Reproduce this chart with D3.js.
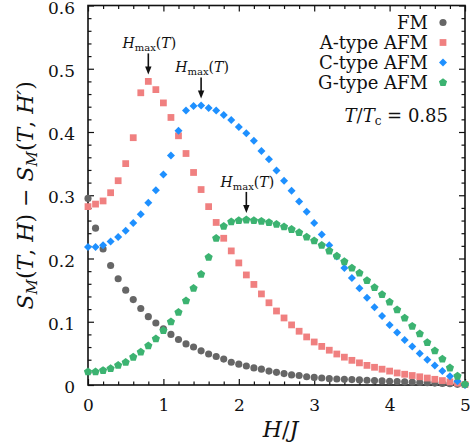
<!DOCTYPE html>
<html>
<head>
<meta charset="utf-8">
<script src="https://cdn.jsdelivr.net/npm/d3@7"></script>
<style>
  body { margin: 0; background: #fff; }
  text { font-family: "DejaVu Serif", "Liberation Serif", "Noto Serif", "Times New Roman", Times, serif; fill: #111; }
</style>
</head>
<body>
<script>
// field values H/J
const fieldH = [0.0, 0.1, 0.2, 0.3, 0.4, 0.5, 0.6, 0.7, 0.8, 0.9,
                1.0, 1.1, 1.2, 1.3, 1.4, 1.5, 1.6, 1.7, 1.8, 1.9,
                2.0, 2.1, 2.2, 2.3, 2.4, 2.5, 2.6, 2.7, 2.8, 2.9,
                3.0, 3.1, 3.2, 3.3, 3.4, 3.5, 3.6, 3.7, 3.8, 3.9,
                4.0, 4.1, 4.2, 4.3, 4.4, 4.5, 4.6, 4.7, 4.8, 4.9, 5.0];

const fmValues = [0.295, 0.248, 0.215, 0.189, 0.168, 0.150, 0.135, 0.121, 0.108, 0.098,
                  0.089, 0.080, 0.072, 0.065, 0.060, 0.054, 0.049, 0.045, 0.041, 0.036,
                  0.033, 0.030, 0.027, 0.025, 0.022, 0.020, 0.018, 0.016, 0.015, 0.013,
                  0.012, 0.011, 0.010, 0.0095, 0.009, 0.0085, 0.008, 0.0075, 0.007, 0.0065,
                  0.006, 0.0055, 0.005, 0.0045, 0.004, 0.0035, 0.003, 0.0025, 0.002, 0.001, 0.0005];

const aValues = [0.282, 0.286, 0.291, 0.304, 0.323, 0.350, 0.391, 0.462, 0.480, 0.467,
                 0.446, 0.423, 0.394, 0.366, 0.336, 0.309, 0.282, 0.257, 0.232, 0.212,
                 0.193, 0.174, 0.159, 0.144, 0.130, 0.117, 0.106, 0.095, 0.085, 0.076,
                 0.068, 0.061, 0.055, 0.049, 0.044, 0.039, 0.035, 0.031, 0.028, 0.025,
                 0.022, 0.019, 0.017, 0.015, 0.013, 0.011, 0.009, 0.007, 0.005, 0.003, 0.001];

const cValues = [0.218, 0.218, 0.221, 0.227, 0.234, 0.244, 0.256, 0.270, 0.288, 0.308,
                 0.333, 0.363, 0.402, 0.434, 0.441, 0.442, 0.438, 0.434, 0.427, 0.419,
                 0.408, 0.398, 0.386, 0.370, 0.357, 0.339, 0.323, 0.307, 0.290, 0.274,
                 0.256, 0.238, 0.221, 0.203, 0.185, 0.169, 0.153, 0.138, 0.123, 0.109,
                 0.095, 0.083, 0.071, 0.061, 0.050, 0.040, 0.031, 0.022, 0.014, 0.006, 0.0];

const gValues = [0.021, 0.021, 0.023, 0.026, 0.031, 0.036, 0.044, 0.052, 0.062, 0.073,
                 0.086, 0.100, 0.115, 0.133, 0.153, 0.175, 0.202, 0.232, 0.251, 0.258,
                 0.260, 0.261, 0.260, 0.259, 0.257, 0.254, 0.250, 0.246, 0.241, 0.234,
                 0.228, 0.221, 0.212, 0.204, 0.195, 0.185, 0.177, 0.165, 0.154, 0.143,
                 0.131, 0.119, 0.106, 0.093, 0.081, 0.067, 0.054, 0.041, 0.027, 0.014, 0.001];

const seriesNames = ["FM", "A-type AFM", "C-type AFM", "G-type AFM"];
const seriesColors = ["#666666", "#f08080", "#1e90ff", "#3cb371"];
const xTicks = [0, 1, 2, 3, 4, 5];
const yTicks = [0, 0.1, 0.2, 0.3, 0.4, 0.5, 0.6];

// peak positions marked with H_max(T)
const peakH = [0.8, 1.5, 2.1];
const peakS = [0.480, 0.442, 0.261];

const W = 470, H = 446;
const margin = {left: 88, right: 5, top: 5.5, bottom: 61};
const width = W - margin.left - margin.right;
const height = H - margin.top - margin.bottom;
const serif = '"DejaVu Serif", "Liberation Serif", "Noto Serif", "Times New Roman", Times, serif';

const svg = d3.select("body").append("svg").attr("width", W).attr("height", H);
const g = svg.append("g").attr("transform", `translate(${margin.left}, ${margin.top})`);

const xScale = d3.scaleLinear().domain([0, 5]).range([0, width]);
const yScale = d3.scaleLinear().domain([0, 0.6]).range([height, 0]);

// custom marker shapes
const pentagon = {
  draw(ctx, size) {
    const r = Math.sqrt(size / 2.3776);
    for (let i = 0; i < 5; i++) {
      const a = -Math.PI / 2 + i * 2 * Math.PI / 5;
      const px = r * Math.cos(a), py = r * Math.sin(a);
      if (i === 0) ctx.moveTo(px, py); else ctx.lineTo(px, py);
    }
    ctx.closePath();
  }
};
const diamond = {
  draw(ctx, size) {
    const r = Math.sqrt(size / 2);
    ctx.moveTo(0, -r); ctx.lineTo(r, 0); ctx.lineTo(0, r); ctx.lineTo(-r, 0);
    ctx.closePath();
  }
};
const symbolTypes = [d3.symbolCircle, d3.symbolSquare, diamond, pentagon];
const symbolSizes = [40, 46, 32, 44];

// ticks: inward on all four sides
const minorX = d3.range(0, 5.001, 0.2).filter(v => Math.abs(v - Math.round(v)) > 1e-6);
const minorY = d3.range(0, 0.6001, 0.02).filter(v => Math.abs(v * 10 - Math.round(v * 10)) > 1e-6);

g.append("g").attr("transform", `translate(0, ${height})`)
  .call(d3.axisBottom(xScale).tickValues(xTicks).tickSize(-6).tickPadding(14).tickFormat(d3.format("d")));
g.append("g").attr("transform", `translate(0, ${height})`)
  .call(d3.axisBottom(xScale).tickValues(minorX).tickSize(-3.5).tickFormat(""));
g.append("g")
  .call(d3.axisTop(xScale).tickValues(xTicks).tickSize(-6).tickFormat(""));
g.append("g")
  .call(d3.axisTop(xScale).tickValues(minorX).tickSize(-3.5).tickFormat(""));

const yAxis = g.append("g")
  .call(d3.axisLeft(yScale).tickValues(yTicks).tickSize(-6).tickPadding(13).tickFormat(d => d === 0 ? "0" : d3.format(".1f")(d)));
g.append("g")
  .call(d3.axisLeft(yScale).tickValues(minorY).tickSize(-3.5).tickFormat(""));
g.append("g").attr("transform", `translate(${width}, 0)`)
  .call(d3.axisRight(yScale).tickValues(yTicks).tickSize(-6).tickFormat(""));
g.append("g").attr("transform", `translate(${width}, 0)`)
  .call(d3.axisRight(yScale).tickValues(minorY).tickSize(-3.5).tickFormat(""));

g.selectAll(".domain").remove();
g.selectAll(".tick line").attr("stroke", "#111").attr("stroke-width", 1.2);
g.selectAll(".tick text")
  .style("font-family", serif)
  .style("font-size", "17px")
  .attr("fill", "#111");
yAxis.selectAll(".tick text").attr("dy", "0.45em");

// frame
g.append("rect")
  .attr("x", 0).attr("y", 0).attr("width", width).attr("height", height)
  .attr("fill", "none").attr("stroke", "#111").attr("stroke-width", 1.6);

// data points
const allSeries = [fmValues, aValues, cValues, gValues];
allSeries.forEach((vals, i) => {
  const sym = d3.symbol().type(symbolTypes[i]).size(symbolSizes[i]);
  g.append("g").selectAll("path")
    .data(vals.map((v, j) => ({h: fieldH[j], s: v})))
    .enter()
    .append("path")
    .attr("transform", d => `translate(${xScale(d.h)}, ${yScale(d.s)})`)
    .attr("d", sym)
    .attr("fill", seriesColors[i]);
});

// H_max(T) annotations
peakH.forEach((ph, i) => {
  const px = xScale(ph);
  const tipY = yScale(peakS[i]) - 7;
  const topY = tipY - 21;
  g.append("line")
    .attr("x1", px).attr("x2", px).attr("y1", topY).attr("y2", tipY - 6)
    .attr("stroke", "#111").attr("stroke-width", 1.6);
  g.append("path")
    .attr("d", `M${px - 3.2},${tipY - 8} L${px + 3.2},${tipY - 8} L${px},${tipY} Z`)
    .attr("fill", "#111");
  const t = g.append("text")
    .attr("x", px + 1).attr("y", topY - 5)
    .attr("text-anchor", "middle")
    .style("font-size", "14px");
  t.append("tspan").style("font-style", "italic").text("H");
  t.append("tspan").attr("dy", 3).style("font-size", "10px").text("max");
  t.append("tspan").attr("dy", -3).text("(");
  t.append("tspan").style("font-style", "italic").text("T");
  t.append("tspan").text(")");
});

// legend
const legend = g.append("g");
seriesNames.forEach((name, i) => {
  const ly = 17 + i * 20;
  legend.append("text")
    .attr("x", 340).attr("y", ly + 6)
    .attr("text-anchor", "end")
    .style("font-size", "18px")
    .text(name);
  legend.append("path")
    .attr("transform", `translate(${355}, ${ly})`)
    .attr("d", d3.symbol().type(symbolTypes[i]).size(symbolSizes[i])())
    .attr("fill", seriesColors[i]);
});
const tLabel = legend.append("text")
  .attr("x", 360).attr("y", 116)
  .attr("text-anchor", "end")
  .style("font-size", "18px");
tLabel.append("tspan").style("font-style", "italic").text("T");
tLabel.append("tspan").text("/");
tLabel.append("tspan").style("font-style", "italic").text("T");
tLabel.append("tspan").attr("dy", 3).style("font-size", "12px").text("c");
tLabel.append("tspan").attr("dy", -3).text(" = 0.85");

// x axis title
const xTitle = svg.append("text")
  .attr("x", margin.left + width / 2 + 4).attr("y", 437)
  .attr("text-anchor", "middle")
  .style("font-size", "22px");
xTitle.append("tspan").style("font-style", "italic").text("H");
xTitle.append("tspan").text("/");
xTitle.append("tspan").style("font-style", "italic").text("J");

// y axis title
const yTitle = svg.append("text")
  .attr("transform", `translate(33, ${margin.top + height / 2}) rotate(-90)`)
  .attr("text-anchor", "middle")
  .style("font-size", "22px");
yTitle.append("tspan").style("font-style", "italic").text("S");
yTitle.append("tspan").attr("dy", 4).style("font-size", "15px").style("font-style", "italic").text("M");
yTitle.append("tspan").attr("dy", -4).text("(");
yTitle.append("tspan").style("font-style", "italic").text("T");
yTitle.append("tspan").text(", ");
yTitle.append("tspan").style("font-style", "italic").text("H");
yTitle.append("tspan").text(") − ");
yTitle.append("tspan").style("font-style", "italic").text("S");
yTitle.append("tspan").attr("dy", 4).style("font-size", "15px").style("font-style", "italic").text("M");
yTitle.append("tspan").attr("dy", -4).text("(");
yTitle.append("tspan").style("font-style", "italic").text("T");
yTitle.append("tspan").text(", ");
yTitle.append("tspan").style("font-style", "italic").text("H′");
yTitle.append("tspan").text(")");
</script>
</body>
</html>
